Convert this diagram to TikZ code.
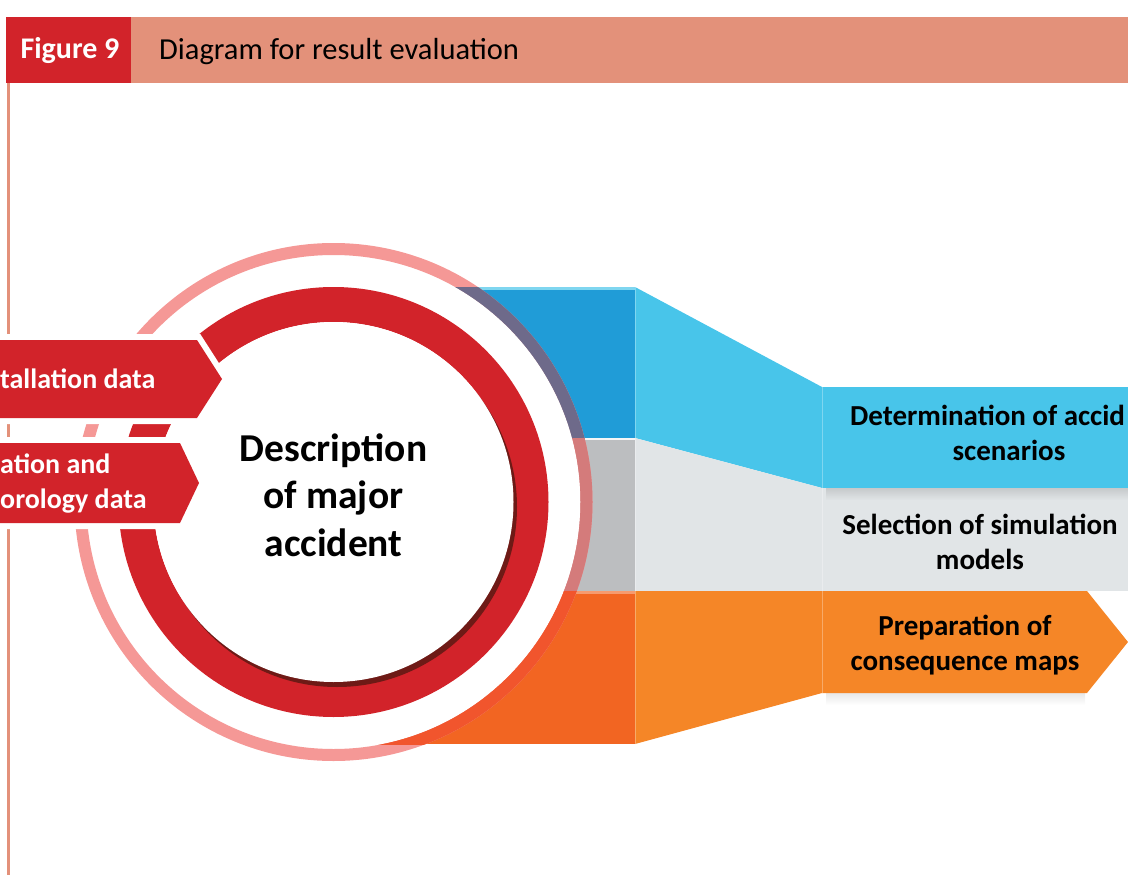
\documentclass[tikz,border=0pt]{standalone}
\usepackage{fontspec}
\setmainfont{Carlito}
\usetikzlibrary{positioning}

\definecolor{figred}{HTML}{D2232A}
\definecolor{salmon}{HTML}{E3917A}
\definecolor{ringpink}{HTML}{F59896}
\definecolor{darkred}{HTML}{6E1A16}
\definecolor{blueback}{HTML}{209CD7}
\definecolor{bluefront}{HTML}{48C5EA}
\definecolor{greyback}{HTML}{BCBEC0}
\definecolor{greyfront}{HTML}{E1E5E7}
\definecolor{orangeback}{HTML}{F26522}
\definecolor{orangefront}{HTML}{F58627}
\definecolor{ringblue}{HTML}{6E6A8A}
\definecolor{ringgrey}{HTML}{D47B7B}
\definecolor{ringorange}{HTML}{F1552D}

\begin{document}
\begin{tikzpicture}[x=1pt,y=-1pt,
    boxtext/.style={font=\fontsize{29}{35}\selectfont\bfseries, align=center, inner sep=0pt},
    intext/.style={font=\fontsize{28}{35}\selectfont\bfseries, text=white, align=left, anchor=west, inner sep=0pt},
    ring/.style={line width=12pt},
    inarrow/.style={fill=figred, preaction={draw=white, line width=12pt}}]
    \useasboundingbox (0,0) rectangle (1128,875);
    \clip (0,0) rectangle (1128,875);

    % header
    \fill[figred] (6,17) rectangle (131,83);
    \fill[salmon] (131,17) rectangle (1128,83);
    \node[font=\fontsize{30}{36}\selectfont\bfseries, text=white] (fig) at (70,51) {Figure 9};
    \node[font=\fontsize{30.5}{36}\selectfont, anchor=west, inner sep=0pt] (title) at (159,52) {Diagram for result evaluation};
    \draw[salmon, line width=3pt] (8,83) -- (8,875);

    % back faces
    \fill[blueback] (333,287) rectangle (635,438);
    \fill[greyback] (333,438) rectangle (635,591);
    \fill[orangeback] (333,591) rectangle (635,744);
    \draw[bluefront!70!white, line width=3pt] (333,288.5) -- (635,288.5);
    \draw[white!85!greyback, line width=2pt] (333,439) -- (635,439);
    \draw[white, opacity=0.35, line width=3pt] (333,592) -- (635,592);

    % slanted faces
    \fill[bluefront] (635,287) -- (822,387) -- (822,488) -- (635,438) -- cycle;
    \fill[greyfront] (635,438) -- (822,488) -- (822,591) -- (635,591) -- cycle;
    \fill[orangefront] (635,591) -- (822,591) -- (822,693) -- (635,744) -- cycle;
    \draw[white, opacity=0.3, line width=1pt] (635,287) -- (635,744);

    % front boxes with soft shadows
    \fill[bluefront] (822,387) rectangle (1128,488);
    \fill[greyfront] (822,488) rectangle (1128,591);
    \shade[top color=greyfront!80!black, bottom color=greyfront, opacity=0.6] (826,488) rectangle (1128,500);
    \shade[top color=black!9, bottom color=white] (826,693) rectangle (1085,705);
    \fill[orangefront] (822,591) -- (1087,591) -- (1128,642) -- (1087,693) -- (822,693) -- cycle;
    \draw[white, opacity=0.3, line width=1pt] (822,387) -- (822,693);

    % circle
    \coordinate (ctr) at (333.5,502);
    \fill[white] (ctr) circle[radius=247];
    \draw[ring, ringpink] (ctr) circle[radius=253];
    \begin{scope}
      \clip (333,287) rectangle (635,438);
      \draw[ring, ringblue] (ctr) circle[radius=253];
    \end{scope}
    \begin{scope}
      \clip (333,438) rectangle (635,591);
      \draw[ring, ringgrey] (ctr) circle[radius=253];
    \end{scope}
    \begin{scope}
      \clip (333,591) rectangle (635,744);
      \draw[ring, ringorange] (ctr) circle[radius=253];
    \end{scope}
    \draw[figred, line width=35pt] (ctr) circle[radius=197.5];
    \fill[darkred] (337,507) circle[radius=180];
    \fill[white] (ctr) circle[radius=180];
    \node[font=\fontsize{39.5}{47.5}\selectfont\bfseries, align=center] (desc) at (333.5,495) {Description\\of major\\accident};

    % input arrows
    \path[inarrow] (-20,340) -- (197,340) -- (222,379) -- (197,418) -- (-20,418) -- cycle;
    \path[inarrow] (-20,443) -- (180,443) -- (199,483) -- (180,523) -- (-20,523) -- cycle;
    \node[intext] (inst) at (0,379) {tallation data};
    \node[intext] (popu) at (0,484) {ation and\\orology data};

    % box texts
    \node[boxtext, anchor=base west] (detA) at (850,425) {Determination of accid};
    \node[boxtext, anchor=base] (detB) at (1009,460) {scenarios};
    \node[boxtext] (sel) at (980,542) {Selection of simulation\\models};
    \node[boxtext] (prep) at (965,645) {Preparation of\\consequence maps};
\end{tikzpicture}
\end{document}
